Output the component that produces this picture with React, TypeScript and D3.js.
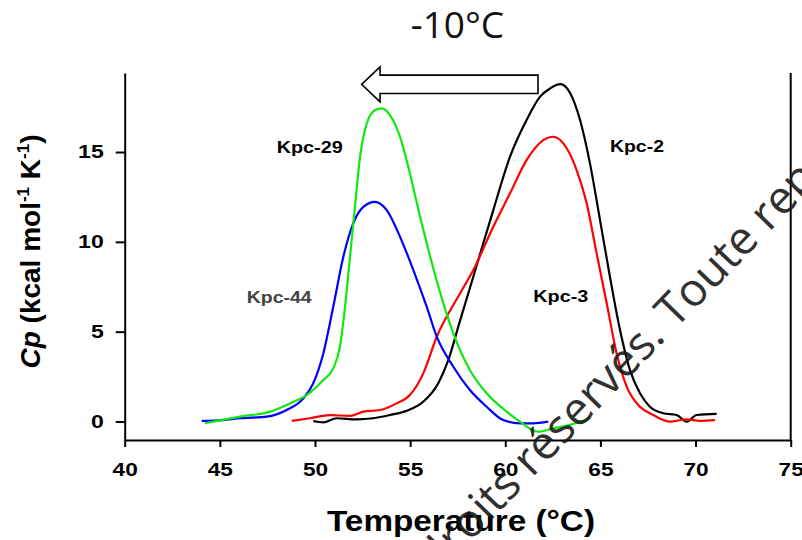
import { useEffect, useRef } from 'react';
import * as d3 from 'd3';

// axis ticks
const xTicks = [40, 45, 50, 55, 60, 65, 70, 75];
const yTicks = [0, 5, 10, 15];

// Kpc-29 (green)
const kpc29T = [44.22, 46.06, 47.64, 48.69, 49.56, 50.44, 50.96, 51.31, 51.58, 51.84, 52.1, 52.37, 52.72, 53.15, 53.5, 53.94, 54.47, 54.99, 55.52, 55.95, 56.57, 57.27, 58.14, 59.02, 60.07, 60.77, 61.73, 62.52, 63.4, 64.45];
const kpc29Cp = [-0.1, 0.27, 0.55, 1.01, 1.47, 2.31, 2.96, 4.16, 6.39, 9.17, 11.95, 14.74, 16.59, 17.33, 17.43, 17.06, 15.85, 13.81, 11.4, 9.6, 7.2, 4.91, 2.87, 1.57, 0.55, -0.01, -0.57, -0.38, -0.19, 0.18];

// Kpc-44 (blue)
const kpc44T = [44.05, 45.18, 46.06, 47.46, 48.51, 49.39, 49.91, 50.44, 50.96, 51.49, 52.01, 52.54, 53.15, 53.77, 54.47, 55.17, 55.87, 56.4, 57.27, 58.14, 59.02, 59.89, 60.77, 61.47, 62.26];
const kpc44Cp = [0.03, 0.08, 0.18, 0.27, 0.64, 1.29, 2.13, 3.8, 6.39, 9.17, 11.03, 11.95, 12.23, 11.77, 10.28, 8.43, 6.39, 4.72, 3.05, 1.75, 0.82, 0.08, -0.1, -0.1, -0.01];

// Kpc-3 (red)
const kpc3T = [48.78, 49.74, 50.79, 51.84, 52.54, 53.42, 54.29, 54.99, 55.69, 56.4, 57.62, 58.32, 59.37, 60.25, 61.12, 62.0, 62.52, 63.05, 63.75, 64.28, 64.8, 65.33, 65.85, 66.38, 67.08, 67.78, 68.65, 69.53, 70.23, 71.02];
const kpc3Cp = [0.03, 0.18, 0.36, 0.31, 0.55, 0.64, 1.01, 1.47, 2.68, 4.72, 7.13, 8.43, 10.84, 12.7, 14.55, 15.66, 15.85, 15.48, 14.0, 12.14, 9.36, 6.58, 3.8, 1.94, 0.82, 0.36, -0.01, 0.12, 0.04, 0.08];

// Kpc-2 (black)
const kpc2T = [49.91, 50.44, 51.14, 52.19, 53.06, 53.94, 54.82, 55.69, 56.48, 57.0, 57.62, 58.32, 59.37, 60.25, 61.12, 61.82, 62.35, 62.9, 63.4, 63.93, 64.45, 64.98, 65.5, 66.03, 66.55, 67.08, 67.6, 68.3, 69.01, 69.53, 70.06, 71.11];
const kpc2Cp = [0.03, -0.05, 0.18, 0.12, 0.18, 0.36, 0.6, 1.1, 2.13, 3.4, 5.6, 8.06, 11.77, 14.74, 16.78, 18.07, 18.54, 18.78, 18.3, 16.78, 14.37, 11.21, 8.06, 5.09, 2.87, 1.57, 0.82, 0.46, 0.36, -0.01, 0.36, 0.42];

const zip = (t: number[], v: number[]) => t.map((d, i) => [d, v[i]] as [number, number]);

export default function App() {
  const svgRef = useRef<SVGSVGElement>(null);

  useEffect(() => {
    const svg = d3.select(svgRef.current);
    svg.selectAll('*').remove();

    const font = '"Liberation Sans", Arial, sans-serif';
    const x = d3.scaleLinear().domain([40, 75]).range([124.7, 790.7]);
    const y = d3.scaleLinear().domain([-1.03, 19.4]).range([440, 73]);

    // x axis
    const gx = svg
      .append('g')
      .attr('transform', `translate(0, ${y(-1.03)})`)
      .call(d3.axisBottom(x).tickValues(xTicks).tickSize(7).tickSizeOuter(0).tickPadding(16));
    gx.select('.domain').attr('stroke-width', 2);
    gx.selectAll('line').attr('stroke-width', 2);
    gx.selectAll('text')
      .attr('font-family', font)
      .attr('font-weight', 'bold')
      .attr('font-size', 18.5)
      .attr('fill', '#000')
      .attr('textLength', (d: any) => String(d).length * 12.6)
      .attr('lengthAdjust', 'spacingAndGlyphs');

    // y axis
    const gy = svg
      .append('g')
      .attr('transform', `translate(${x(40)}, 0)`)
      .call(d3.axisLeft(y).tickValues(yTicks).tickSize(9).tickSizeOuter(0).tickPadding(12));
    gy.select('.domain').attr('stroke-width', 2);
    gy.selectAll('line').attr('stroke-width', 2);
    gy.selectAll('text')
      .attr('font-family', font)
      .attr('font-weight', 'bold')
      .attr('font-size', 18)
      .attr('fill', '#000')
      .attr('textLength', (d: any) => String(d).length * 12.8)
      .attr('lengthAdjust', 'spacingAndGlyphs');

    // right frame line
    svg
      .append('line')
      .attr('x1', x(75))
      .attr('x2', x(75))
      .attr('y1', y(19.4))
      .attr('y2', y(-1.03))
      .attr('stroke', '#000')
      .attr('stroke-width', 2);

    // curves
    const line = d3
      .line<[number, number]>()
      .x(d => x(d[0]))
      .y(d => y(d[1]))
      .curve(d3.curveMonotoneX);

    const series = [
      { data: zip(kpc2T, kpc2Cp), color: '#000000' },
      { data: zip(kpc3T, kpc3Cp), color: '#ff0000' },
      { data: zip(kpc44T, kpc44Cp), color: '#0000ff' },
      { data: zip(kpc29T, kpc29Cp), color: '#11e811' },
    ];
    series.forEach(s => {
      svg
        .append('path')
        .datum(s.data)
        .attr('fill', 'none')
        .attr('stroke', s.color)
        .attr('stroke-width', 2.2)
        .attr('stroke-linejoin', 'round')
        .attr('d', line);
    });

    // curve labels
    const labels = [
      { text: 'Kpc-29', t: 49.72, v: 14.92, w: 66, color: '#000' },
      { text: 'Kpc-2', t: 66.92, v: 15.01, w: 54, color: '#000' },
      { text: 'Kpc-44', t: 48.12, v: 6.58, w: 65, color: '#444' },
      { text: 'Kpc-3', t: 62.92, v: 6.63, w: 55, color: '#000' },
    ];
    labels.forEach(l => {
      svg
        .append('text')
        .attr('x', x(l.t))
        .attr('y', y(l.v))
        .attr('text-anchor', 'middle')
        .attr('font-family', font)
        .attr('font-weight', 'bold')
        .attr('font-size', 16)
        .attr('fill', l.color)
        .attr('textLength', l.w)
        .attr('lengthAdjust', 'spacingAndGlyphs')
        .text(l.text);
    });

    // shift arrow
    const av = 18.77;
    const arrowPts: [number, number][] = [
      [52.45, av],
      [53.42, av + 0.974],
      [53.42, av + 0.512],
      [61.72, av + 0.512],
      [61.72, av - 0.512],
      [53.42, av - 0.512],
      [53.42, av - 0.974],
    ];
    svg
      .append('path')
      .attr('d', d3.line<[number, number]>().x(d => x(d[0])).y(d => y(d[1]))(arrowPts) + 'Z')
      .attr('fill', '#fff')
      .attr('stroke', '#000')
      .attr('stroke-width', 1.6);

    // title
    svg
      .append('text')
      .attr('x', 457.5)
      .attr('y', 38)
      .attr('text-anchor', 'middle')
      .attr('font-family', '"Open Sans", sans-serif')
      .attr('font-size', 37)
      .attr('fill', '#111')
      .text('-10°C');

    // axis titles
    svg
      .append('text')
      .attr('x', 461)
      .attr('y', 531)
      .attr('text-anchor', 'middle')
      .attr('font-family', font)
      .attr('font-weight', 'bold')
      .attr('font-size', 29)
      .attr('textLength', 268)
      .attr('lengthAdjust', 'spacingAndGlyphs')
      .text('Temperature (°C)');

    const yt = svg
      .append('text')
      .attr('transform', 'translate(39.5, 251.5) rotate(-90)')
      .attr('text-anchor', 'middle')
      .attr('font-family', font)
      .attr('font-weight', 'bold')
      .attr('font-size', 28);
    yt.append('tspan').attr('font-style', 'italic').text('Cp');
    yt.append('tspan').text('\u00a0(kcal mol');
    yt.append('tspan').attr('font-size', 17).attr('dy', -11).text('-1');
    yt.append('tspan').attr('dy', 11).text('\u00a0K');
    yt.append('tspan').attr('font-size', 17).attr('dy', -11).text('-1');
    yt.append('tspan').attr('dy', 11).text(')');

    // watermark
    const wm = svg
      .append('g')
      .attr('transform', 'translate(532, 478) rotate(-46)')
      .attr('font-family', '"Open Sans", sans-serif')
      .attr('font-size', 46)
      .attr('fill', '#1a1a1a')
      .attr('opacity', 0.9);
    wm.append('text').attr('x', -12).attr('text-anchor', 'end').text('Tous droits');
    wm.append('text').attr('x', 0).text('réservés. Toute reproduction interdite');
  }, []);

  return (
    <svg
      ref={svgRef}
      width={802}
      height={540}
      style={{ position: 'absolute', left: 0, top: 0, background: '#fff' }}
    />
  );
}
